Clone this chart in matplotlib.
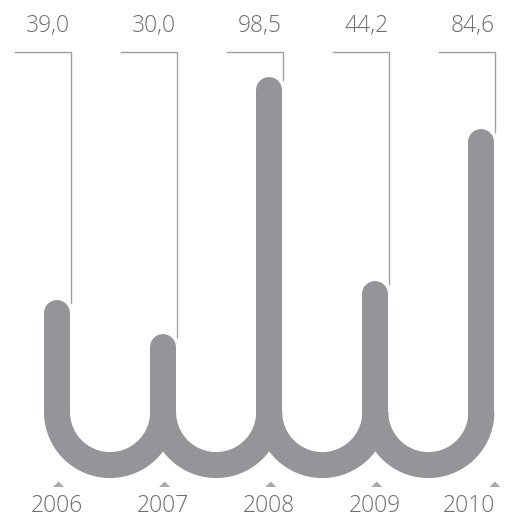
import numpy as np
import matplotlib
matplotlib.use("Agg")
import matplotlib.pyplot as plt
from matplotlib.patches import Polygon

# data
years = ["2006", "2007", "2008", "2009", "2010"]
values = [39.0, 30.0, 98.5, 44.2, 84.6]
value_labels = ["39,0", "30,0", "98,5", "44,2", "84,6"]

# layout (pixels)
W, H, DPI = 506, 520, 100
X0, DX = 57, 106.1        # pixel x of first bar, spacing between bars
Y0, SY = 459.9, 3.7545    # pixel y (from top) of value 0, pixels per unit
STROKE = 26               # stroke width px
ARC_Y = 412               # pixel y where bars turn into arcs

bar_col = "#939598"
line_col = "#a0a0a0"
text_col = "#6d6e71"
tri_col = "#a7a9ac"

plt.rcParams['font.family'] = ['Open Sans', 'DejaVu Sans']

fig = plt.figure(figsize=(W / DPI, H / DPI), dpi=DPI)
ax = fig.add_axes([0, 0, 1, 1])
ax.set_xlim(-X0 / DX, (W - X0) / DX)
ax.set_ylim((Y0 - H) / SY, Y0 / SY)
ax.axis("off")


def py(p):
    # pixel y (from top) -> data y
    return (Y0 - p) / SY


lw = STROKE * 72 / DPI
arc_c = py(ARC_Y)
rx = 0.5
ry = (DX / 2) / SY

# vertical parts with rounded top
for i, v in enumerate(values):
    ax.plot([i, i], [arc_c - 0.3, v], color=bar_col, lw=lw,
            solid_capstyle="round", zorder=2)

# U-shaped arcs between neighbours
t = np.linspace(np.pi, 2 * np.pi, 120)
for i in range(len(values) - 1):
    cx = i + 0.5
    ax.plot(cx + rx * np.cos(t), arc_c + ry * np.sin(t), color=bar_col,
            lw=lw, solid_capstyle="butt", zorder=2)

# leader lines and value labels
lead_y = py(52)
for i, v in enumerate(values):
    lx = i + 14 / DX
    ax.plot([lx - 56 / DX, lx, lx], [lead_y, lead_y, v + 10 / SY],
            color=line_col, lw=1.0, solid_joinstyle="miter", zorder=1)
    ax.text(i + 13 / DX, py(32), value_labels[i], ha="right", va="baseline",
            fontsize=16.5, color=text_col, fontweight=300)

# year labels and small triangles
for i, yr in enumerate(years):
    if i == len(years) - 1:
        tx, lab_x, ha = i + 13.5 / DX, i + 14 / DX, "right"
    else:
        tx, lab_x, ha = i + 1.5 / DX, i, "center"
    hw = 5.5 / DX
    tri = Polygon([[tx - hw, py(487)], [tx + hw, py(487)], [tx, py(481.5)]],
                  closed=True, color=tri_col, lw=0)
    ax.add_patch(tri)
    ax.text(lab_x, py(512), yr, ha=ha, va="baseline", fontsize=16.5,
            color=text_col, fontweight=300)

fig.savefig("out.png", dpi=DPI)
